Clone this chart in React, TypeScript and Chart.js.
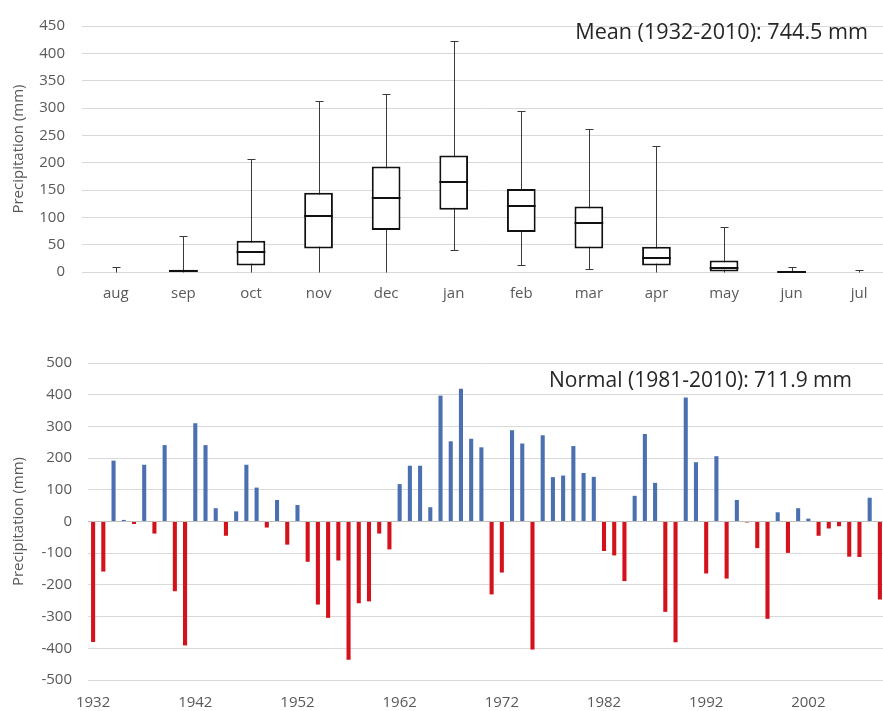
import React, { useEffect, useRef } from "react";
import { Chart, registerables } from "chart.js";

Chart.register(...registerables);

// ---------- Top chart: monthly precipitation box plot ----------
const months = ["aug", "sep", "oct", "nov", "dec", "jan", "feb", "mar", "apr", "may", "jun", "jul"];
const boxMin = [0, 0, 0, 0, 0, 41, 12, 6, 0, 0, 0, 0];
const boxQ1 = [null, 1, 12, 43, 77, 114, 73, 43, 12, 0, 0, null];
const boxMedian = [null, 2, 36, 103, 136, 165, 121, 90, 26, 8, 0, null];
const boxQ3 = [null, 4, 57, 145, 193, 213, 152, 120, 46, 21, 2, null];
const boxMax = [9, 65, 206, 313, 325, 422, 294, 262, 230, 83, 10, 4];
const meanLabel = "Mean (1932-2010): 744.5 mm";

// ---------- Bottom chart: annual anomaly ----------
const years = [
  "1932", "1933", "1934", "1935", "1936", "1937", "1938", "1939", "1940", "1941",
  "1942", "1943", "1944", "1945", "1946", "1947", "1948", "1949", "1950", "1951",
  "1952", "1953", "1954", "1955", "1956", "1957", "1958", "1959", "1960", "1961",
  "1962", "1963", "1964", "1965", "1966", "1967", "1968", "1969", "1970", "1971",
  "1972", "1973", "1974", "1975", "1976", "1977", "1978", "1979", "1980", "1981",
  "1982", "1983", "1984", "1985", "1986", "1987", "1988", "1989", "1990", "1991",
  "1992", "1993", "1994", "1995", "1996", "1997", "1998", "1999", "2000", "2001",
  "2002", "2003", "2004", "2005", "2006", "2007", "2008", "2009",
];
const anomalies = [
  -380, -158, 192, 5, -8, 179, -38, 241, -220, -391,
  310, 241, 42, -45, 32, 179, 107, -19, 68, -73,
  52, -127, -262, -304, -123, -436, -258, -252, -38, -88,
  118, 176, 176, 45, 397, 253, 419, 261, 234, -230,
  -161, 288, 246, -404, 272, 140, 145, 238, 153, 141,
  -93, -107, -188, 81, 276, 122, -285, -381, 391, 187,
  -164, 206, -180, 68, -3, -84, -307, 29, -99, 42,
  9, -45, -22, -15, -111, -112, 75, -246,
];
const labeledYearStep = 10;
const normalLabel = "Normal (1981-2010): 711.9 mm";

const FONT = "'Open Sans', 'DejaVu Sans', sans-serif";
const TICK_COLOR = "#595959";
const GRID_COLOR = "#d9d9d9";
const ZERO_COLOR = "#bfbfbf";
const BLUE = "#4a70b0";
const RED = "#d4121c";
const TEXT_COLOR = "#262626";

function notePlugin(id: string, text: string, rightX: number, baseY: number, size: number) {
  return {
    id,
    afterDraw(chart: any) {
      const ctx = chart.ctx;
      ctx.save();
      ctx.font = `${size}px ${FONT}`;
      ctx.fillStyle = TEXT_COLOR;
      ctx.textAlign = "right";
      ctx.textBaseline = "alphabetic";
      ctx.fillText(text, rightX, baseY);
      ctx.restore();
    },
  };
}

function BoxChart() {
  const ref = useRef<HTMLCanvasElement>(null);
  useEffect(() => {
    const whiskers = {
      id: "whiskers",
      beforeDatasetsDraw(chart: any) {
        const { ctx } = chart;
        const x = chart.scales.x;
        const y = chart.scales.y;
        ctx.save();
        ctx.strokeStyle = "#3a3a3a";
        ctx.lineWidth = 1;
        months.forEach((_, i) => {
          const cx = Math.round(x.getPixelForValue(i)) + 0.5;
          const yMax = Math.round(y.getPixelForValue(boxMax[i])) + 0.5;
          const yMin = Math.round(y.getPixelForValue(boxMin[i])) + 0.5;
          const cap = 4;
          ctx.beginPath();
          ctx.moveTo(cx, yMin);
          ctx.lineTo(cx, yMax);
          ctx.moveTo(cx - cap, yMax);
          ctx.lineTo(cx + cap, yMax);
          if (boxMin[i] > 0) {
            ctx.moveTo(cx - cap, yMin);
            ctx.lineTo(cx + cap, yMin);
          }
          ctx.stroke();
        });
        ctx.restore();
      },
      afterDatasetsDraw(chart: any) {
        const { ctx } = chart;
        const y = chart.scales.y;
        const meta = chart.getDatasetMeta(0);
        ctx.save();
        ctx.strokeStyle = "#111";
        ctx.lineWidth = 2;
        months.forEach((_, i) => {
          const med = boxMedian[i];
          const el = meta.data[i];
          if (med === null || !el) return;
          const ym = Math.round(y.getPixelForValue(med));
          ctx.beginPath();
          ctx.moveTo(el.x - el.width / 2, ym);
          ctx.lineTo(el.x + el.width / 2, ym);
          ctx.stroke();
        });
        ctx.restore();
      },
    };
    const chart = new Chart(ref.current!, {
      type: "bar",
      data: {
        labels: months,
        datasets: [
          {
            data: months.map((_, i) => (boxQ1[i] === null ? null : [boxQ1[i], boxQ3[i]])) as any,
            backgroundColor: "#ffffff",
            borderColor: "#111111",
            borderWidth: 2,
            borderSkipped: false,
            barPercentage: 0.425,
            categoryPercentage: 1,
          },
        ],
      },
      options: {
        responsive: false,
        animation: false,
        layout: { padding: { left: 0, top: 16, right: 7, bottom: 0 } },
        plugins: { legend: { display: false }, tooltip: { enabled: false }, title: { display: false } },
        scales: {
          x: {
            offset: true,
            grid: { display: false, drawTicks: false },
            border: { display: true, color: GRID_COLOR },
            ticks: { color: TICK_COLOR, font: { family: FONT, size: 15 }, padding: 13, maxRotation: 0 },
            afterFit: (s: any) => { s.height = 38; s.paddingRight = 0; },
          },
          y: {
            min: 0,
            max: 450,
            ticks: { stepSize: 50, color: TICK_COLOR, font: { family: FONT, size: 15 }, padding: 17 },
            grid: { color: GRID_COLOR, drawTicks: false },
            border: { display: false },
            title: {
              display: true,
              text: "Precipitation (mm)",
              color: TICK_COLOR,
              font: { family: FONT, size: 15 },
              padding: { top: 10, bottom: 0 },
            },
            afterFit: (s: any) => { s.width = 82; },
          },
        },
      },
      plugins: [whiskers, notePlugin("meanNote", meanLabel, 868, 39, 21.6)],
    });
    return () => chart.destroy();
  }, []);
  return <canvas ref={ref} width={900} height={310} style={{ position: "absolute", left: 0, top: 0 }} />;
}

function AnomalyChart() {
  const ref = useRef<HTMLCanvasElement>(null);
  useEffect(() => {
    const chart = new Chart(ref.current!, {
      type: "bar",
      data: {
        labels: years,
        datasets: [
          {
            data: anomalies,
            backgroundColor: anomalies.map((v) => (v >= 0 ? BLUE : RED)),
            barPercentage: 0.4,
            categoryPercentage: 1,
          },
        ],
      },
      options: {
        responsive: false,
        animation: false,
        layout: { padding: { left: 0, top: 33, right: 5, bottom: 0 } },
        plugins: { legend: { display: false }, tooltip: { enabled: false }, title: { display: false } },
        scales: {
          x: {
            offset: true,
            grid: { display: false, drawTicks: false },
            border: { display: false },
            ticks: {
              autoSkip: false,
              maxRotation: 0,
              color: TICK_COLOR,
              font: { family: FONT, size: 15 },
              padding: 14,
              callback: (_v: any, i: number) => (i % labeledYearStep === 0 ? years[i] : ""),
            },
            afterFit: (s: any) => { s.height = 35; s.paddingRight = 0; },
          },
          y: {
            min: -500,
            max: 500,
            ticks: { stepSize: 100, color: TICK_COLOR, font: { family: FONT, size: 15 }, padding: 16 },
            grid: {
              drawTicks: false,
              color: (c: any) => (c.tick && c.tick.value === 0 ? ZERO_COLOR : GRID_COLOR),
            },
            border: { display: false },
            title: {
              display: true,
              text: "Precipitation (mm)",
              color: TICK_COLOR,
              font: { family: FONT, size: 15 },
              padding: { top: 10, bottom: 0 },
            },
            afterFit: (s: any) => { s.width = 88; },
          },
        },
      },
      plugins: [notePlugin("normalNote", normalLabel, 852, 57, 21)],
    });
    return () => chart.destroy();
  }, []);
  return <canvas ref={ref} width={890} height={385} style={{ position: "absolute", left: 0, top: 330 }} />;
}

export default function App() {
  return (
    <div
      style={{
        position: "absolute",
        left: 0,
        top: 0,
        width: 883,
        height: 711,
        overflow: "hidden",
        background: "#ffffff",
      }}
    >
      <BoxChart />
      <AnomalyChart />
    </div>
  );
}
